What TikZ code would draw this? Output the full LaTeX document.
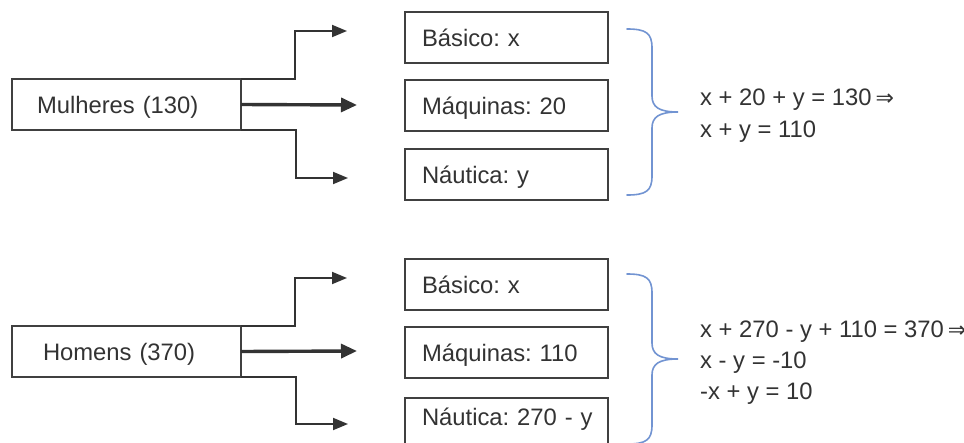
\documentclass[tikz,border=0pt]{standalone}
\usepackage{fontspec}
\setmainfont{Liberation Sans}
\newfontfamily\symfont{DejaVu Sans}
\usetikzlibrary{arrows.meta}
\definecolor{ink}{HTML}{333333}
\definecolor{edge}{HTML}{404040}
\definecolor{bracecol}{HTML}{7294D2}
\frenchspacing

\tikzset{
  txt/.style={font=\fontsize{23.8}{27}\selectfont, text=ink, inner sep=0pt},
  box/.style={txt, draw=edge, line width=1.3pt, anchor=north west, outer sep=0pt,
    align=left, text height=22pt, text depth=4pt, inner ysep=0pt},
  leftbox/.style={box, minimum width=229pt, minimum height=51pt},
  optbox/.style={box, inner xsep=0pt, text width=203pt, minimum height=51pt,
    execute at begin node={\hspace*{17pt}}},
  arr/.style={draw=ink, line width=1.9pt, line join=miter,
    -{Triangle[length=15pt,width=12pt]}},
  arrmain/.style={draw=ink, line width=3.4pt,
    -{Triangle[length=16pt,width=14pt]}},
  brace/.style={draw=bracecol, line width=1.6pt, line cap=round},
  eq/.style={txt, anchor=base west},
}

\newcommand{\impl}{\,{\symfont\fontsize{22}{22}\selectfont ⇒}}

\begin{document}
\begin{tikzpicture}[x=1pt,y=-1pt]
\useasboundingbox (0,0) rectangle (964,442);
\fill[white] (0,0) rectangle (964,442);
\clip (0,0) rectangle (964,442);

% ---------- women ----------
\node[leftbox, inner xsep=25pt, text width=179pt] (mul) at (12,79) {Mulheres (130)};

\node[optbox] (mBas) at (405,12)  {Básico: x};
\node[optbox] (mMaq) at (405,80)  {Máquinas: 20};
\node[optbox] (mNau) at (405,149) {Náutica: y};

\coordinate (mUpBend) at (295,31);
\coordinate (mUpEnd)  at (347,31);
\coordinate (mMidEnd) at (357,105);
\coordinate (mLoBend) at (296,178);
\coordinate (mLoEnd)  at (348,178);

\draw[arr] (mul.north east) -| (mUpBend) -- (mUpEnd);
\draw[arrmain] (mul.east) -- (mMidEnd);
\draw[arr] (mul.south east) -| (mLoBend) -- (mLoEnd);

\draw[brace] (627,29) .. controls (646,29) and (652,33) .. (652,48)
  -- (652,96) .. controls (652,107) and (659,112) .. (678,112)
  .. controls (659,112) and (652,117) .. (652,128)
  -- (652,176) .. controls (652,191) and (646,195) .. (627,195);

\node[eq] (mEq1) at (700,105) {x + 20 + y = 130\impl};
\node[eq] (mEq2) at (700,137) {x + y = 110};

% ---------- men ----------
\node[leftbox, inner xsep=31pt, text width=167pt] (hom) at (12,326) {Homens (370)};

\node[optbox] (hBas) at (405,259) {Básico: x};
\node[optbox] (hMaq) at (405,327) {Máquinas: 110};
\node[optbox, minimum height=0pt, text height=17pt, text depth=20pt,
      inner ysep=10pt] (hNau) at (405,398) {Náutica: 270 - y};

\coordinate (hUpBend) at (295,278);
\coordinate (hUpEnd)  at (347,278);
\coordinate (hMidEnd) at (357,351);
\coordinate (hLoBend) at (296,424);
\coordinate (hLoEnd)  at (348,424);

\draw[arr] (hom.north east) -| (hUpBend) -- (hUpEnd);
\draw[arrmain] (hom.east) -- (hMidEnd);
\draw[arr] (hom.south east) -| (hLoBend) -- (hLoEnd);

\draw[brace] (627,274) .. controls (646,274) and (652,278) .. (652,293)
  -- (652,343) .. controls (652,354) and (659,359) .. (678,359)
  .. controls (659,359) and (652,364) .. (652,375)
  -- (652,425) .. controls (652,440) and (646,444) .. (627,444);

\node[eq] (hEq1) at (700,337) {x + 270 - y + 110 = 370\impl};
\node[eq] (hEq2) at (700,368) {x - y = -10};
\node[eq] (hEq3) at (700,399) {-x + y = 10};
\end{tikzpicture}
\end{document}
